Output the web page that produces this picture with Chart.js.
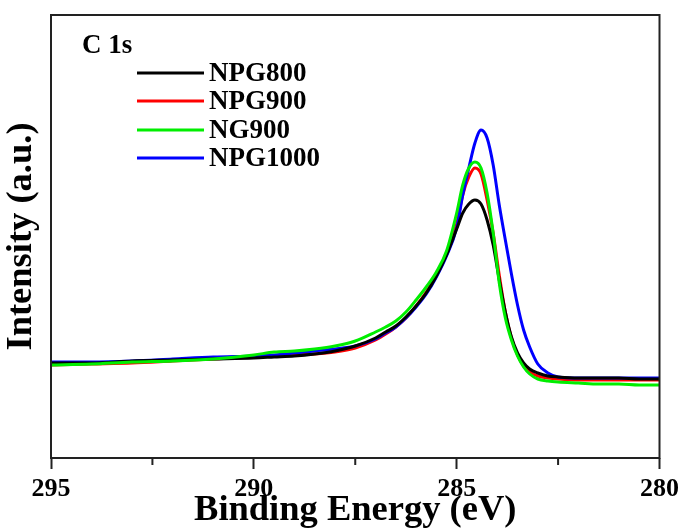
<!DOCTYPE html>
<html>
<head>
<meta charset="utf-8">
<script src="https://cdn.jsdelivr.net/npm/chart.js@4/dist/chart.umd.min.js"></script>
<style>
  html, body { margin:0; padding:0; background:#fff; }
  #wrap { width:684px; height:531px; }
</style>
</head>
<body>
<div id="wrap"><canvas id="xps" width="684" height="531"></canvas></div>
<script>
// binding energy grid (eV) shared by all spectra
const energy = [295.0, 294.0, 293.0, 292.0, 291.0, 290.0, 289.5, 289.0, 288.5, 288.0,
  287.5, 287.0, 286.75, 286.5, 286.25, 286.0, 285.75, 285.5, 285.25, 285.0,
  284.85, 284.7, 284.55, 284.4, 284.25, 284.1, 283.95, 283.8, 283.65, 283.5,
  283.35, 283.2, 283.0, 282.75, 282.5, 282.0, 281.5, 281.0, 280.5, 280.0];

// intensities (a.u.)
const npg800 = [95, 95, 97, 98, 99, 100, 101, 102, 104, 107, 112, 120, 126, 132, 141, 152, 165, 182, 203, 229,
  245, 254, 258, 254, 238, 213, 178, 146, 121, 105, 95, 89, 85, 82, 81, 80, 80, 80, 79, 79];
const npg900 = [93, 94, 95, 97, 99, 101, 102, 103, 104, 106, 110, 118, 124, 131, 140, 152, 166, 183, 205, 234,
  263, 281, 290, 284, 258, 225, 183, 146, 120, 103, 92, 86, 82, 80, 79, 78, 78, 78, 78, 78];
const ng900 = [93, 94, 96, 97, 99, 103, 106, 107, 109, 112, 117, 126, 131, 137, 146, 158, 171, 186, 207, 245,
  273, 290, 296, 290, 265, 225, 175, 140, 118, 102, 91, 84, 79, 77, 76, 75, 74, 74, 73, 73];
const npg1000 = [96, 96, 97, 99, 101, 102, 103, 105, 107, 109, 112, 119, 125, 131, 140, 151, 164, 181, 202, 230,
  263, 290, 315, 328, 320, 293, 253, 218, 184, 153, 128, 111, 94, 85, 81, 80, 80, 80, 80, 80];

const seriesNames = ['NPG800', 'NPG900', 'NG900', 'NPG1000'];
const seriesColors = ['#000000', '#ff0000', '#00ee00', '#0000ff'];
const seriesOrder = [1, 3, 0, 2]; // green on top, red at the bottom
const xTicksMajor = [295, 290, 285, 280];
const xTicksMinor = [292.5, 287.5, 282.5];
const panelLabel = 'C 1s';

const SERIF = "'Liberation Serif', 'Times New Roman', serif";
const INK = '#222';

function toPoints(vals){
  return vals.map((v, i) => ({ x: energy[i], y: v }));
}

// frame, minor ticks and the in-plot legend
const decor = {
  id: 'decor',
  afterDraw(chart){
    const {ctx, chartArea: a, scales} = chart;
    ctx.save();
    ctx.strokeStyle = INK;
    ctx.lineWidth = 2;
    ctx.strokeRect(a.left, a.top, a.right - a.left, a.bottom - a.top);

    ctx.beginPath();
    xTicksMinor.forEach(v => {
      const px = scales.x.getPixelForValue(v);
      ctx.moveTo(px, a.bottom);
      ctx.lineTo(px, a.bottom + 7);
    });
    ctx.stroke();

    ctx.fillStyle = '#000';
    ctx.font = `bold 27px ${SERIF}`;
    ctx.textBaseline = 'middle';
    ctx.fillText(panelLabel, 82, 46);

    const rows = [73, 101, 130, 158];
    chart.data.datasets.forEach((ds, i) => {
      ctx.strokeStyle = ds.borderColor;
      ctx.lineWidth = 3;
      ctx.beginPath();
      ctx.moveTo(137, rows[i]);
      ctx.lineTo(204, rows[i]);
      ctx.stroke();
      ctx.fillText(ds.label, 209, rows[i] + 1);
    });
    ctx.restore();
  }
};

new Chart(document.getElementById('xps'), {
  type: 'line',
  data: {
    datasets: [npg800, npg900, ng900, npg1000].map((vals, i) => ({
      label: seriesNames[i],
      data: toPoints(vals),
      borderColor: seriesColors[i],
      borderWidth: 3,
      pointRadius: 0,
      cubicInterpolationMode: 'monotone',
      order: seriesOrder[i],
    }))
  },
  options: {
    responsive: false,
    animation: false,
    layout: { padding: { top: 15, right: 24, left: 0, bottom: 0 } },
    plugins: { legend: { display:false }, tooltip: { enabled:false } },
    scales: {
      x: {
        type: 'linear',
        reverse: true,
        min: 280, max: 295,
        afterBuildTicks: s => { s.ticks = xTicksMajor.map(v => ({ value: v })); },
        afterFit: s => { s.height = 73; },
        grid: { drawOnChartArea:false, tickLength:11, tickWidth:2, tickColor:INK },
        border: { display:false },
        ticks: { color:'#000', padding:5, maxRotation:0, font:{ family:SERIF, size:26, weight:'bold' } },
        title: { display:true, text:'Binding Energy (eV)', color:'#000', padding:{ top:0, bottom:2 },
          font:{ family:SERIF, size:36.5, weight:'bold', lineHeight:1 } }
      },
      y: {
        min: 0, max: 443,
        afterFit: s => { s.width = 51; },
        grid: { display:false },
        border: { display:false },
        ticks: { display:false },
        title: { display:true, text:'Intensity (a.u.)', color:'#000', padding:{ top:3, bottom:0 },
          font:{ family:SERIF, size:36.5, weight:'bold', lineHeight:1 } }
      }
    }
  },
  plugins: [decor]
});
</script>
</body>
</html>
